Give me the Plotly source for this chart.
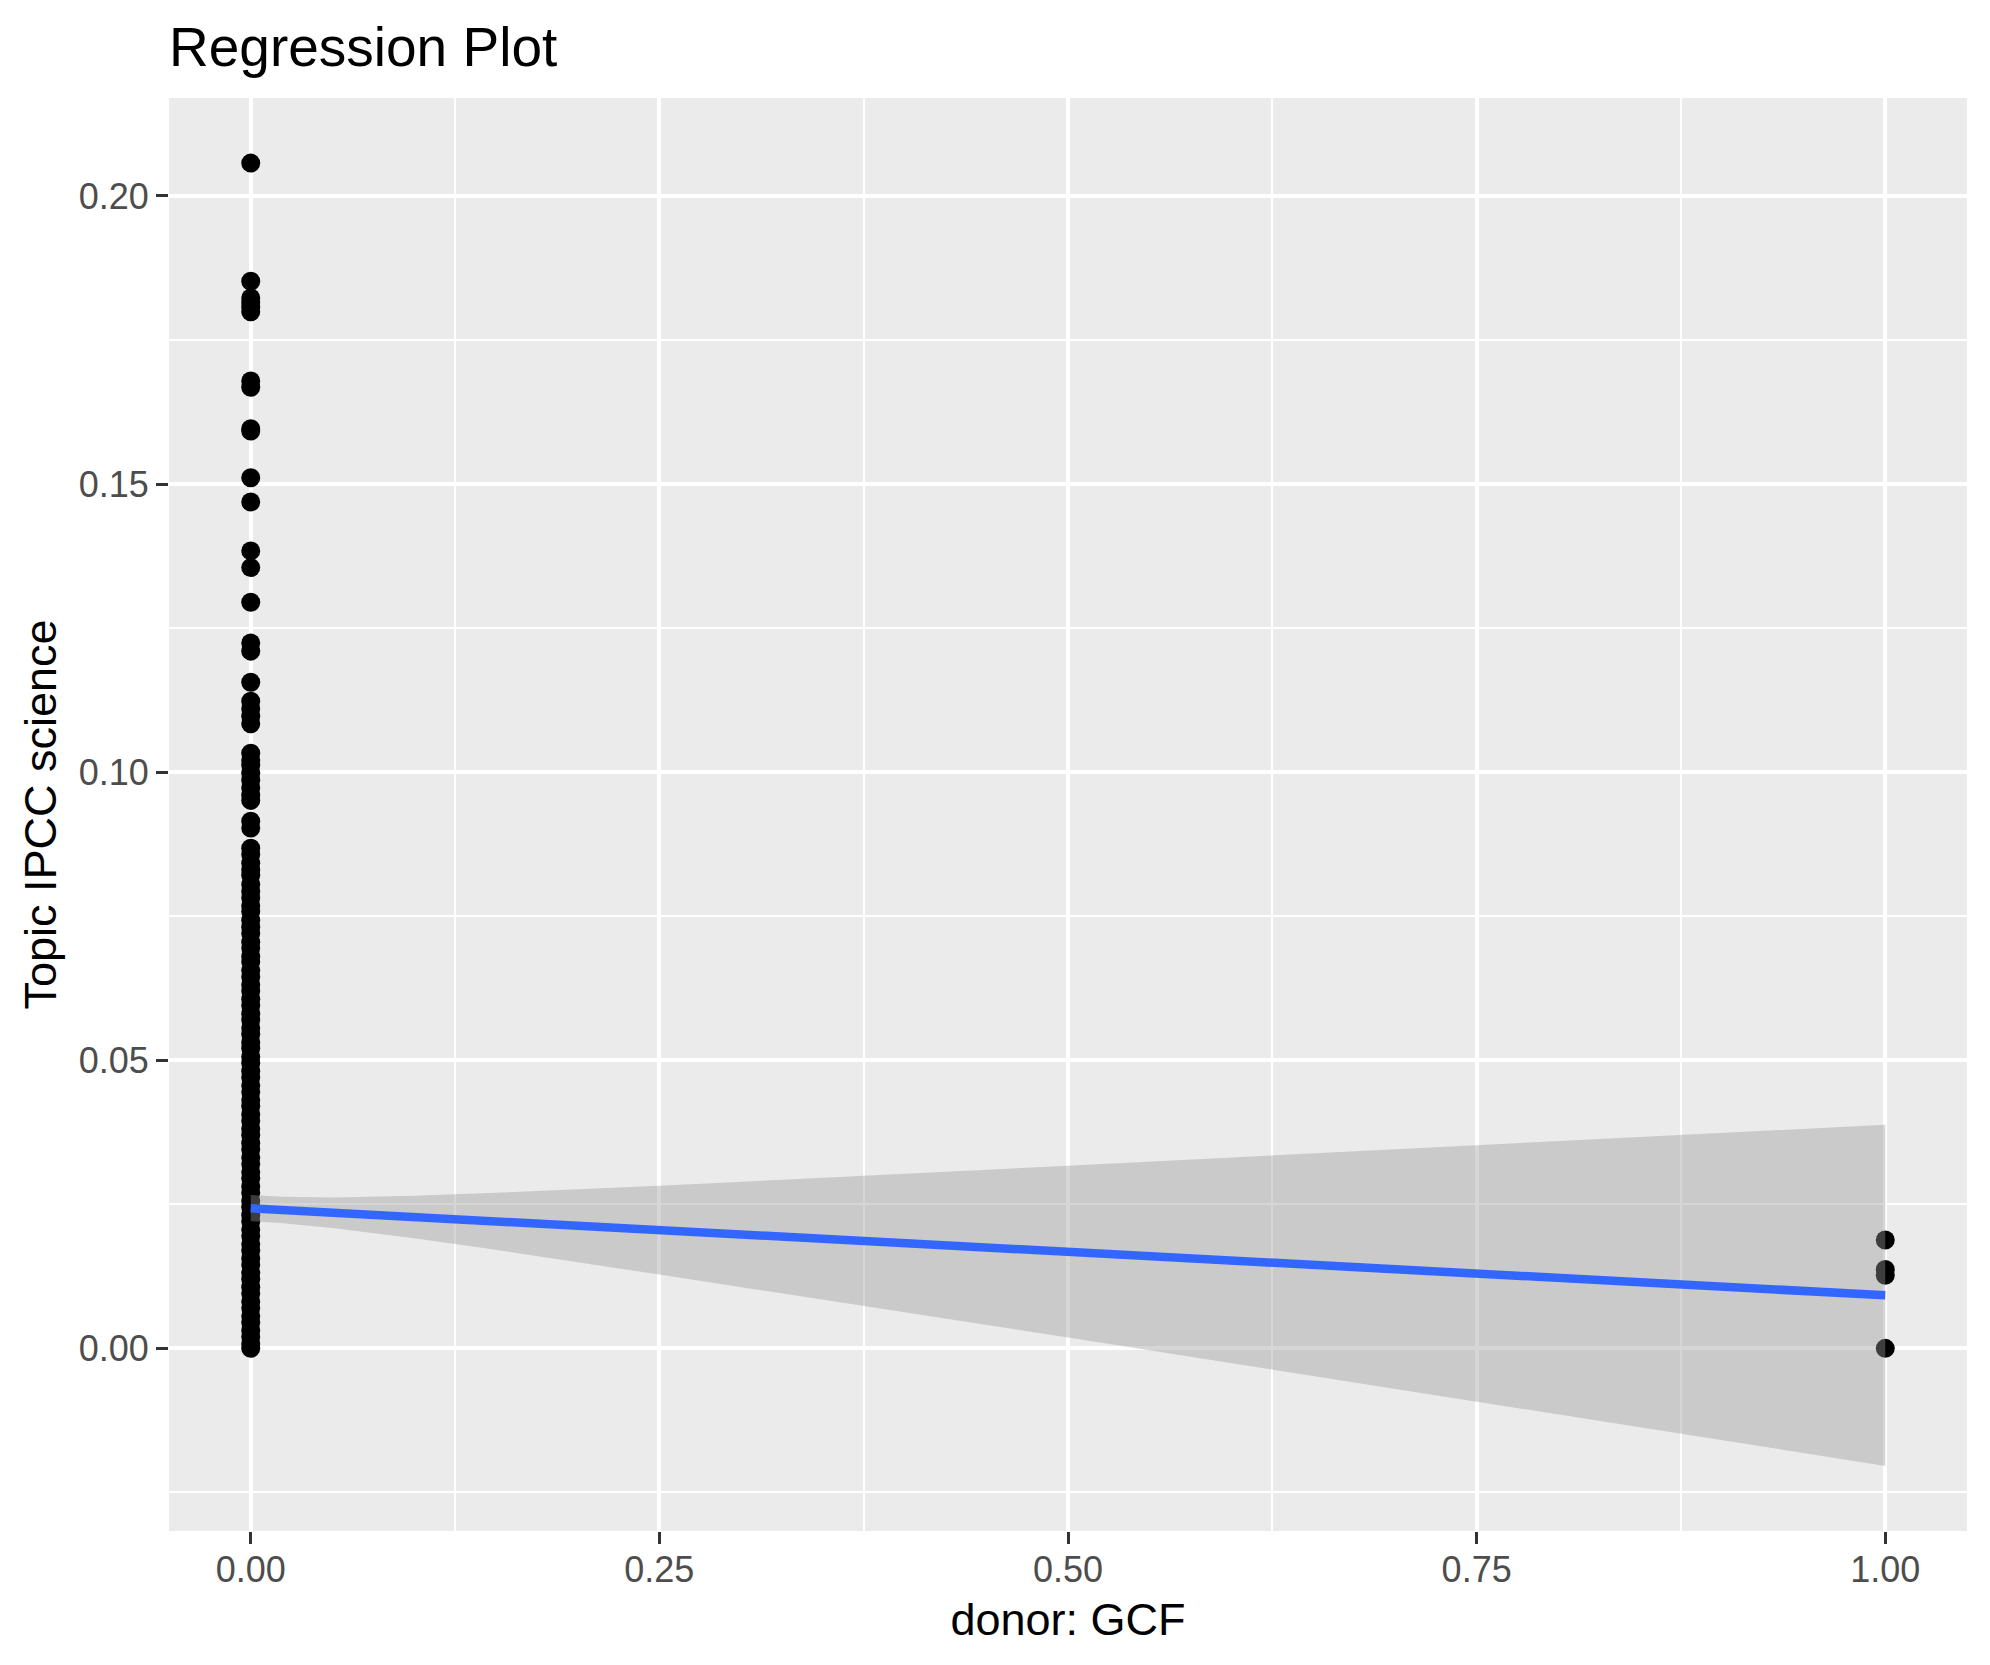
import plotly.graph_objects as go

# ---- data ----
donor_gcf_0_y = [0.2057, 0.1852, 0.1823, 0.1815, 0.1807, 0.1799, 0.1679, 0.1668,
                 0.1596, 0.1592, 0.1511, 0.1469, 0.1384, 0.1355, 0.1295, 0.1224,
                 0.1210, 0.1156, 0.1123, 0.1110, 0.1097, 0.1084, 0.1033, 0.1021,
                 0.1012, 0.0998, 0.0986, 0.0973, 0.0960, 0.0951, 0.0915, 0.0903,
                 0.0868, 0.0857, 0.0842, 0.0830, 0.0821, 0.0805, 0.0793, 0.0782,
                 0.0768, 0.0758, 0.0743, 0.0731, 0.0720, 0.0705, 0.0695, 0.0680,
                 0.0671, 0.0656, 0.0645, 0.0631, 0.0620, 0.0606, 0.0595, 0.0581,
                 0.0570, 0.0556, 0.0545, 0.0531, 0.0521, 0.0506, 0.0495, 0.0481,
                 0.0470, 0.0456, 0.0445, 0.0431, 0.0420, 0.0406, 0.0395, 0.0381,
                 0.0370, 0.0356, 0.0345, 0.0331, 0.0320, 0.0306, 0.0295, 0.0281,
                 0.0270, 0.0256, 0.0245, 0.0231, 0.0220, 0.0206, 0.0195, 0.0181,
                 0.0170, 0.0156, 0.0145, 0.0131, 0.0120, 0.0106, 0.0095, 0.0081,
                 0.0070, 0.0056, 0.0045, 0.0031, 0.0020, 0.0008, 0.0000]
donor_gcf_1_y = [0.0188, 0.0137, 0.0127, 0.0000]

fit_x     = [0.0, 0.02, 0.05, 0.10, 0.15, 0.25, 0.50, 0.75, 1.00]
fit_y     = [0.0243, 0.0240, 0.0235, 0.0228, 0.0220, 0.0205, 0.0168, 0.0130, 0.0092]
fit_upper = [0.0266, 0.0263, 0.0262, 0.0265, 0.0270, 0.0282, 0.0317, 0.0352, 0.0388]
fit_lower = [0.0221, 0.0217, 0.0209, 0.0191, 0.0171, 0.0128, 0.0019, -0.0092, -0.0204]

x_ticks = [0.0, 0.25, 0.5, 0.75, 1.0]
y_ticks = [0.0, 0.05, 0.10, 0.15, 0.20]
x_minor = [0.125, 0.375, 0.625, 0.875]
y_minor = [-0.025, 0.025, 0.075, 0.125, 0.175]

FONT = "Liberation Sans, Arial, Helvetica, sans-serif"

pts_x = [0.0] * len(donor_gcf_0_y) + [1.0] * len(donor_gcf_1_y)
pts_y = donor_gcf_0_y + donor_gcf_1_y

fig = go.Figure()
fig.add_trace(go.Scatter(x=pts_x, y=pts_y, mode="markers",
                         marker=dict(color="black", size=19, line=dict(width=0)),
                         showlegend=False, hoverinfo="x+y"))
fig.add_trace(go.Scatter(x=fit_x + fit_x[::-1], y=fit_upper + fit_lower[::-1],
                         mode="lines", fill="toself",
                         fillcolor="rgba(153,153,153,0.4)",
                         line=dict(width=0), showlegend=False, hoverinfo="skip"))
fig.add_trace(go.Scatter(x=fit_x, y=fit_y, mode="lines",
                         line=dict(color="#3366FF", width=8.5),
                         showlegend=False))

fig.update_layout(
    width=1990, height=1665,
    margin=dict(l=161, r=31, t=90, b=142),
    paper_bgcolor="white", plot_bgcolor="#EBEBEB",
    font=dict(family=FONT),
    title=dict(text="Regression Plot", font=dict(size=55, color="black", family=FONT),
               x=0, xref="paper", xanchor="left", y=1 - 39 / 1665, yref="container",
               yanchor="middle"),
)
fig.update_xaxes(
    range=[-0.05, 1.05], tickvals=x_ticks, ticktext=[f"{v:.2f}" for v in x_ticks],
    showgrid=True, gridcolor="white", gridwidth=4.4, zeroline=False, showline=False,
    ticks="outside", ticklen=12, tickwidth=2.5, tickcolor="#333333",
    tickfont=dict(size=36, color="#4D4D4D", family=FONT),
    ticklabelstandoff=-5,
    minor=dict(tickvals=x_minor, showgrid=True, gridcolor="white", gridwidth=2.2, ticks=""),
    title=dict(text="donor: GCF", font=dict(size=45, color="black", family=FONT), standoff=14),
)
fig.update_yaxes(
    range=[-0.0317, 0.2170], tickvals=y_ticks, ticktext=[f"{v:.2f}" for v in y_ticks],
    showgrid=True, gridcolor="white", gridwidth=4.4, zeroline=False, showline=False,
    ticks="outside", ticklen=12, tickwidth=2.5, tickcolor="#333333",
    tickfont=dict(size=36, color="#4D4D4D", family=FONT),
    minor=dict(tickvals=y_minor, showgrid=True, gridcolor="white", gridwidth=2.2, ticks=""),
    title=dict(text="Topic IPCC science", font=dict(size=45, color="black", family=FONT), standoff=7),
)

fig.write_html("out.html")
